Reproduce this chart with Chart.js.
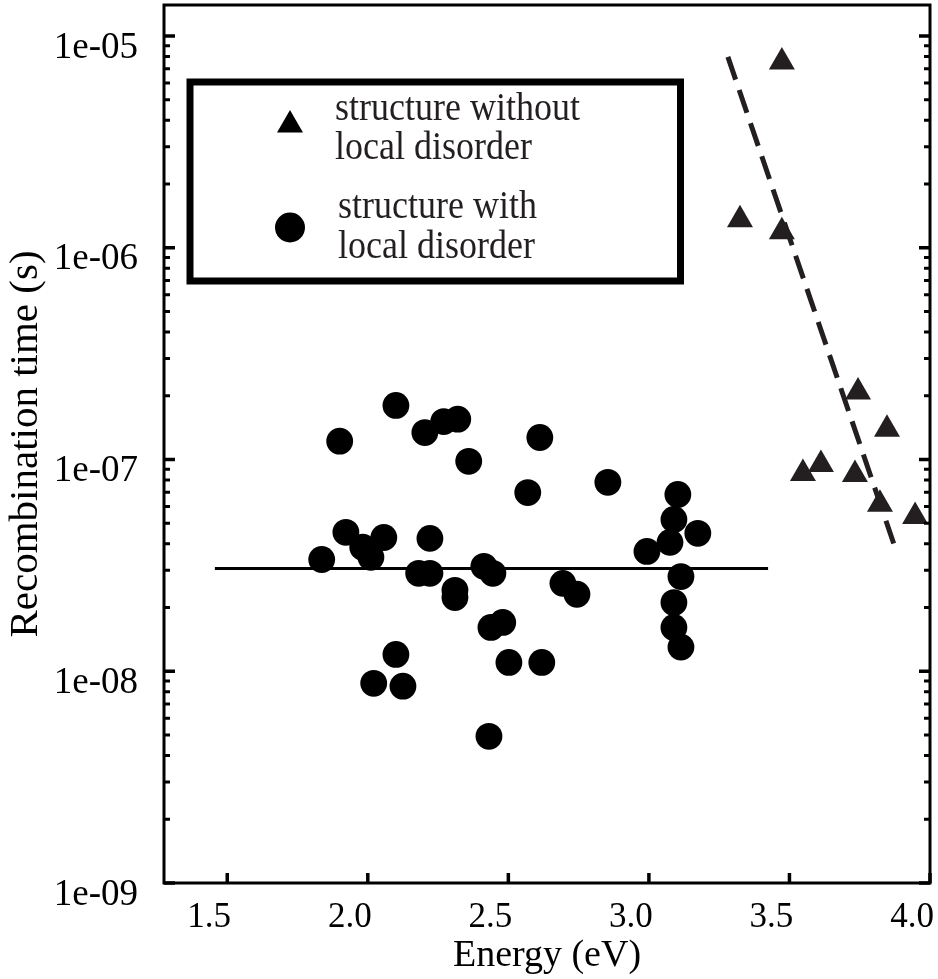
<!DOCTYPE html>
<html><head><meta charset="utf-8">
<script src="https://cdn.jsdelivr.net/npm/chart.js@4"></script>
<style>html,body{margin:0;padding:0;background:#fff;}#wrap{width:938px;height:979px;}</style>
</head><body><div id="wrap"><canvas id="c" width="938" height="979"></canvas></div>
<script>
// ---- data ----
const circleEnergy = [2.100,1.900,2.203,2.270,2.320,2.359,2.612,2.569,2.854,3.103,3.089,3.075,2.993,3.174,3.114,2.694,2.744,3.089,3.089,3.114,1.922,1.982,2.057,2.011,1.836,2.221,2.181,2.221,2.413,2.445,2.310,2.310,2.438,2.480,2.100,2.021,2.125,2.502,2.619,2.431];
const circleTime   = [1.80e-7,1.22e-7,1.34e-7,1.51e-7,1.55e-7,9.8e-8,1.27e-7,6.98e-8,7.8e-8,6.84e-8,5.21e-8,4.06e-8,3.68e-8,4.48e-8,2.80e-8,2.60e-8,2.31e-8,2.11e-8,1.61e-8,1.30e-8,4.53e-8,3.85e-8,4.28e-8,3.45e-8,3.37e-8,4.24e-8,2.90e-8,2.90e-8,3.13e-8,2.90e-8,2.41e-8,2.23e-8,1.61e-8,1.70e-8,1.20e-8,8.77e-9,8.50e-9,1.10e-8,1.10e-8,4.93e-9];
const triangleEnergy = [3.473,3.324,3.473,3.744,3.847,3.548,3.612,3.733,3.822,3.947];
const triangleTime   = [7.54e-6,1.355e-6,1.19e-6,2.08e-7,1.39e-7,8.59e-8,9.46e-8,8.49e-8,6.14e-8,5.38e-8];
const dashedFitEnergy = [3.281,3.872];
const dashedFitTime   = [7.96e-6,3.97e-8];
const meanLineEnergy = [1.456,3.424];
const meanLineTime   = [3.06e-8,3.06e-8];
const xTickValues = [1.5,2.0,2.5,3.0,3.5,4.0];
const xTickLabels = ['1.5','2.0','2.5','3.0','3.5','4.0'];
const yTickValues = [1e-9,1e-8,1e-7,1e-6,1e-5];
const yTickLabels = ['1e-09','1e-08','1e-07','1e-06','1e-05'];
const legendLines = [['structure without','local disorder'],['structure with','local disorder']];
const xTitle = 'Energy (eV)';
const yTitle = 'Recombination time (s)';

const pts = (xs, ys) => xs.map((v, i) => ({x: v, y: ys[i]}));
const SERIF = '"Liberation Serif", "Times New Roman", serif';

const frameAndTicks = {
  id: 'frameAndTicks',
  afterDraw(chart) {
    const {ctx, chartArea: {left, right, top, bottom}, scales: {x, y}} = chart;
    ctx.save();
    ctx.strokeStyle = '#000';
    ctx.lineWidth = 3;
    ctx.strokeRect(left, top, right - left, bottom - top);
    for (let d = -9; d <= -5; d++) {
      for (let m = 1; m <= 9; m++) {
        const v = m * Math.pow(10, d);
        if (v > y.max) break;
        const py = y.getPixelForValue(v);
        const major = m === 1;
        ctx.lineWidth = major ? 3.5 : 3;
        const len = major ? 11 : 6;
        ctx.beginPath();
        ctx.moveTo(left, py); ctx.lineTo(left + len, py);
        ctx.moveTo(right, py); ctx.lineTo(right - len, py);
        ctx.stroke();
      }
    }
    ctx.lineWidth = 3.5;
    xTickValues.forEach(v => {
      const px = x.getPixelForValue(v);
      ctx.beginPath(); ctx.moveTo(px, bottom); ctx.lineTo(px, bottom - 10); ctx.stroke();
    });
    ctx.restore();
  }
};

const boxLegend = {
  id: 'boxLegend',
  afterDraw(chart) {
    const ctx = chart.ctx;
    ctx.save();
    ctx.strokeStyle = '#000';
    ctx.lineWidth = 7;
    ctx.strokeRect(190, 82, 490.5, 199);
    const r = 15, tx = 290, ty = 125;
    ctx.fillStyle = '#000';
    ctx.beginPath();
    ctx.moveTo(tx, ty - r);
    ctx.lineTo(tx + r * Math.sin(2 * Math.PI / 3), ty - r * Math.cos(2 * Math.PI / 3));
    ctx.lineTo(tx + r * Math.sin(4 * Math.PI / 3), ty - r * Math.cos(4 * Math.PI / 3));
    ctx.closePath(); ctx.fill();
    ctx.beginPath(); ctx.arc(290, 227.5, 15, 0, Math.PI * 2); ctx.fill();
    ctx.fillStyle = '#231f20';
    ctx.font = '36px ' + SERIF;
    ctx.textAlign = 'left';
    ctx.textBaseline = 'alphabetic';
    const spots = [[335, 120], [335, 159], [338, 218], [338, 258]];
    const flat = [legendLines[0][0], legendLines[0][1], legendLines[1][0], legendLines[1][1]];
    flat.forEach((t, i) => {
      ctx.save();
      ctx.translate(spots[i][0], spots[i][1]);
      ctx.scale(1, 1.1);
      ctx.fillText(t, 0, 0);
      ctx.restore();
    });
    ctx.restore();
  }
};

new Chart(document.getElementById('c'), {
  type: 'scatter',
  data: {
    datasets: [
      {label: 'mean', data: pts(meanLineEnergy, meanLineTime), showLine: true, pointRadius: 0, borderColor: '#000', borderWidth: 3, backgroundColor: '#000'},
      {label: 'fit', data: pts(dashedFitEnergy, dashedFitTime), showLine: true, pointRadius: 0, borderColor: '#231f20', borderWidth: 5, borderDash: [24, 11], backgroundColor: '#231f20'},
      {label: 'structure with local disorder', data: pts(circleEnergy, circleTime), pointStyle: 'circle', pointRadius: 13.4, pointHoverRadius: 13.4, borderWidth: 0, backgroundColor: '#000'},
      {label: 'structure without local disorder', data: pts(triangleEnergy, triangleTime), pointStyle: 'triangle', pointRadius: 15, pointHoverRadius: 15, borderWidth: 0, backgroundColor: '#231f20'}
    ]
  },
  options: {
    responsive: false,
    animation: false,
    devicePixelRatio: 1,
    layout: {autoPadding: false, padding: {top: 5, right: 8, left: 0, bottom: 0}},
    plugins: {legend: {display: false}, tooltip: {enabled: false}},
    events: [],
    scales: {
      x: {
        type: 'linear', min: 1.275, max: 4.0,
        afterBuildTicks: s => { s.ticks = xTickValues.map(v => ({value: v})); },
        afterFit: s => { s.height = 96; s.paddingLeft = 0; s.paddingRight = 0; },
        grid: {display: false, drawTicks: false},
        border: {display: false},
        ticks: {
          callback: v => xTickLabels[xTickValues.indexOf(v)],
          font: {family: SERIF, size: 35}, color: '#000',
          padding: 14, labelOffset: -18, maxRotation: 0, autoSkip: false
        },
        title: {display: true, text: xTitle, font: {family: SERIF, size: 38}, color: '#000', padding: {top: 0, bottom: 0}}
      },
      y: {
        type: 'logarithmic', min: 1e-9, max: 1.4e-5,
        afterBuildTicks: s => { s.ticks = yTickValues.map(v => ({value: v, major: true})); },
        afterFit: s => { s.width = 164; s.paddingTop = 0; s.paddingBottom = 0; },
        grid: {display: false, drawTicks: false},
        border: {display: false},
        ticks: {
          callback: v => { const i = yTickValues.findIndex(t => Math.abs(Math.log10(t) - Math.log10(v)) < 1e-6); return i >= 0 ? yTickLabels[i] : ''; },
          font: {family: SERIF, size: 37}, color: '#000',
          padding: 26, labelOffset: 12, autoSkip: false
        },
        title: {display: true, text: yTitle, font: {family: SERIF, size: 41}, color: '#000', padding: {top: 2, bottom: 0}}
      }
    }
  },
  plugins: [frameAndTicks, boxLegend]
});
</script>
</body></html>
